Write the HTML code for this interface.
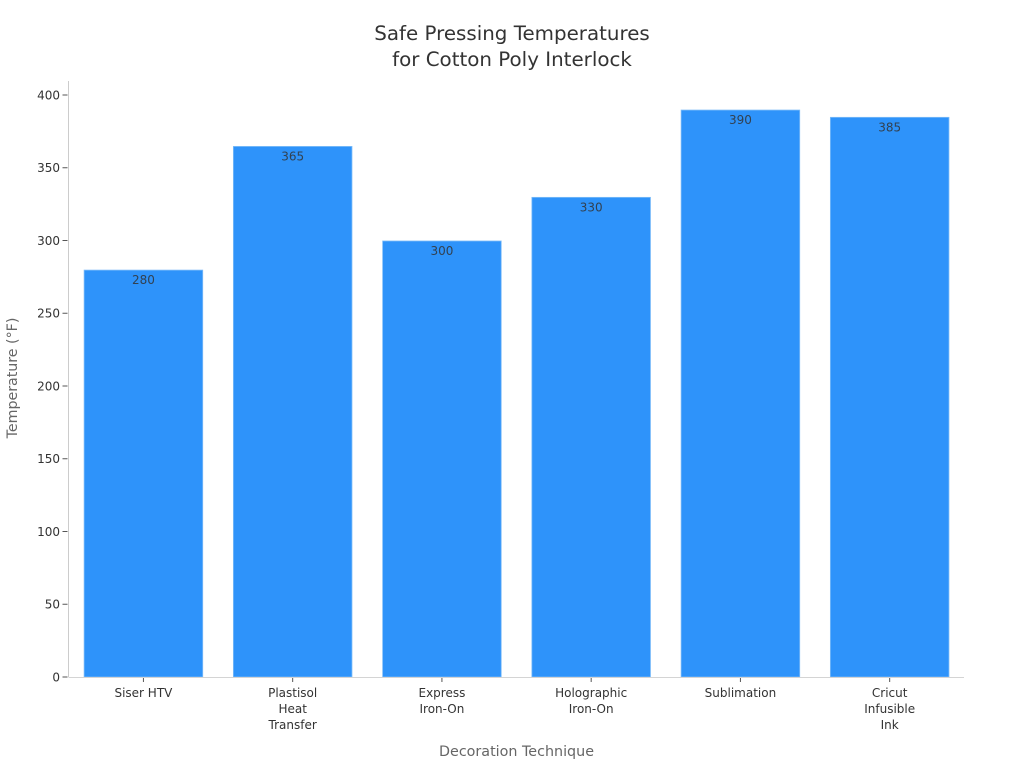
<!DOCTYPE html>
<html lang="en">
<head>
<meta charset="utf-8">
<title>Safe Pressing Temperatures for Cotton Poly Interlock</title>
<style>
html,body{margin:0;padding:0;background:#fff;width:1024px;height:768px;overflow:hidden}
svg{display:block}
text{font-family:"DejaVu Sans",sans-serif}
</style>
</head>
<body>
<svg id="chart" xmlns="http://www.w3.org/2000/svg" width="1024" height="768" viewBox="0 0 1024 768">
  <rect x="0" y="0" width="1024" height="768" fill="#ffffff"/>
  <text x="512" y="40" text-anchor="middle" font-size="19.85" fill="#333333">Safe Pressing Temperatures</text>
  <text x="512" y="66" text-anchor="middle" font-size="19.85" fill="#333333">for Cotton Poly Interlock</text>
  <g id="bars"></g>
  <g id="axes"></g>
  <g id="labels"></g>
  <text transform="translate(17,378) rotate(-90)" text-anchor="middle" font-size="14.2" fill="#666666">Temperature (°F)</text>
  <text x="516.5" y="756" text-anchor="middle" font-size="14.3" fill="#666666">Decoration Technique</text>
</svg>
<script>
const categories = [["Siser HTV"], ["Plastisol", "Heat", "Transfer"], ["Express", "Iron-On"], ["Holographic", "Iron-On"], ["Sublimation"], ["Cricut", "Infusible", "Ink"]];
const temperatures = [280, 365, 300, 330, 390, 385];
const yTicks = [0, 50, 100, 150, 200, 250, 300, 350, 400];

const SVG_NS = "http://www.w3.org/2000/svg";
const plotLeft = 68.5, plotRight = 964, plotBottom = 677, plotTop = 81;
const yPerUnit = 582 / 400;
const bandStep = (plotRight - plotLeft) / categories.length;
const barWidth = 118.6;

function yScale(v) { return plotBottom - v * yPerUnit; }
function xScale(i) { return plotLeft + bandStep * (i + 0.5) + 0.3; }
function make(tag, attrs, parent) {
  const el = document.createElementNS(SVG_NS, tag);
  for (const k in attrs) el.setAttribute(k, attrs[k]);
  parent.appendChild(el);
  return el;
}

const barsG = document.getElementById("bars");
const axesG = document.getElementById("axes");
const labelsG = document.getElementById("labels");

temperatures.forEach(function (v, i) {
  const bar = make("rect", {
    x: xScale(i) - barWidth / 2, y: yScale(v) + 0.5, width: barWidth, height: plotBottom - yScale(v) - 0.5,
    fill: "#2e93fa", stroke: "#7dbcf8", "stroke-width": 0.8
  }, barsG);
  
  

  const label = make("text", {
    x: xScale(i), y: yScale(v) + 14.5, "text-anchor": "middle", "font-size": 12, fill: "#333333", "fill-opacity": 0.85
  }, labelsG);
  
  
  label.textContent = String(v);
});

const yAxis = make("line", { x1: plotLeft, x2: plotLeft, y1: plotTop, y2: plotBottom, stroke: "#cccccc", "stroke-width": 1 }, axesG);



const xAxis = make("line", { x1: plotLeft, x2: plotRight, y1: plotBottom + 0.5, y2: plotBottom + 0.5, stroke: "#d4d4d4", "stroke-width": 1 }, axesG);



yTicks.forEach(function (t) {
  const tick = make("line", { x1: plotLeft - 6, x2: plotLeft - 1, y1: yScale(t), y2: yScale(t), stroke: "#555555", "stroke-width": 1 }, axesG);
  
  

  const lab = make("text", { x: plotLeft - 8.5, y: yScale(t) + 4.3, "text-anchor": "end", "font-size": 12, fill: "#333333" }, axesG);
  
  
  lab.textContent = String(t);
});

categories.forEach(function (lines, i) {
  const tick = make("line", { x1: xScale(i), x2: xScale(i), y1: plotBottom + 1, y2: plotBottom + 5, stroke: "#555555", "stroke-width": 1 }, axesG);
  
  

  lines.forEach(function (line, j) {
    const lab = make("text", { x: xScale(i), y: plotBottom + 20 + j * 16, "text-anchor": "middle", "font-size": 12, fill: "#333333" }, axesG);
    
    
    lab.textContent = line;
  });
});
</script>
</body>
</html>
